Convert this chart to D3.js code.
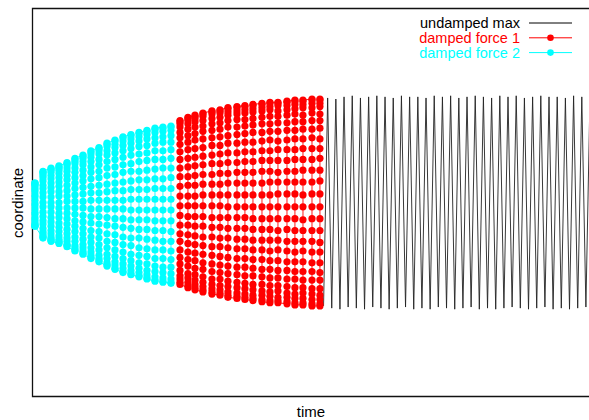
<!DOCTYPE html>
<html>
<head>
<meta charset="utf-8">
<script src="https://cdn.jsdelivr.net/npm/d3@7"></script>
<style>
body { margin: 0; background: #fff; }
text { font-family: "Liberation Sans", Arial, sans-serif; }
</style>
</head>
<body>
<div id="chart"></div>
<script>
// damped force 2 (cyan), one array of read-off values per column
const cyanT = [0.30, 1.28, 2.26, 3.23, 4.21, 5.18, 6.16, 7.13, 8.11, 9.09, 10.06, 11.04, 12.01, 12.99, 13.96, 14.94, 15.91, 16.89];
const cyanY = [
    [.18, .18, .17, .16, .14, .12, .10, .07, .05, .02, -.01, -.03, -.06, -.09, -.11, -.14, -.16, -.18, -.20, -.21, -.22, -.22],
    [.29, .28, .27, .25, .23, .20, .16, .13, .09, .05, 0, -.04, -.09, -.13, -.17, -.20, -.24, -.27, -.29, -.31, -.32, -.33],
    [.32, .31, .30, .28, .25, .22, .18, .14, .10, .05, 0, -.04, -.09, -.14, -.18, -.22, -.26, -.29, -.32, -.34, -.35, -.36],
    [.34, .33, .32, .30, .27, .23, .19, .15, .10, .06, 0, -.05, -.10, -.14, -.19, -.23, -.27, -.31, -.34, -.36, -.37, -.38],
    [.37, .36, .35, .32, .29, .25, .21, .16, .11, .06, .01, -.05, -.10, -.15, -.20, -.25, -.29, -.33, -.36, -.39, -.40, -.41],
    [.41, .40, .38, .36, .32, .28, .23, .18, .13, .07, .01, -.05, -.11, -.17, -.22, -.27, -.32, -.36, -.40, -.42, -.44, -.45],
    [.44, .43, .41, .38, .35, .30, .25, .20, .14, .08, .01, -.05, -.12, -.18, -.24, -.29, -.34, -.39, -.42, -.45, -.47, -.48],
    [.48, .47, .45, .42, .38, .33, .28, .22, .15, .09, .02, -.06, -.13, -.19, -.26, -.32, -.37, -.42, -.46, -.49, -.51, -.52],
    [.51, .50, .48, .45, .40, .35, .29, .23, .16, .09, .02, -.06, -.13, -.20, -.27, -.33, -.39, -.44, -.49, -.52, -.54, -.55],
    [.55, .54, .52, .48, .44, .38, .32, .25, .17, .10, .02, -.06, -.14, -.21, -.29, -.36, -.42, -.48, -.52, -.56, -.58, -.59],
    [.58, .57, .54, .51, .46, .40, .33, .26, .18, .11, .02, -.06, -.15, -.22, -.30, -.37, -.44, -.50, -.55, -.58, -.61, -.62],
    [.61, .60, .57, .53, .48, .42, .35, .28, .19, .11, .02, -.06, -.15, -.23, -.32, -.39, -.46, -.52, -.57, -.61, -.64, -.65],
    [.63, .62, .59, .55, .50, .44, .36, .29, .20, .12, .03, -.07, -.16, -.24, -.33, -.40, -.48, -.54, -.59, -.63, -.66, -.67],
    [.65, .64, .61, .57, .52, .45, .38, .29, .21, .12, .03, -.07, -.16, -.25, -.33, -.42, -.49, -.56, -.61, -.65, -.68, -.69],
    [.67, .66, .63, .59, .53, .46, .39, .30, .21, .12, .03, -.07, -.16, -.25, -.34, -.43, -.50, -.57, -.63, -.67, -.70, -.71],
    [.69, .68, .65, .60, .55, .48, .40, .31, .22, .13, .03, -.07, -.17, -.26, -.35, -.44, -.52, -.59, -.64, -.69, -.72, -.73],
    [.70, .69, .66, .61, .56, .48, .40, .32, .22, .13, .03, -.07, -.17, -.26, -.36, -.44, -.52, -.60, -.65, -.70, -.73, -.74],
    [.71, .70, .67, .62, .56, .49, .41, .32, .23, .13, .03, -.07, -.17, -.27, -.36, -.45, -.53, -.60, -.66, -.71, -.74, -.75]
];

// damped force 1 (red)
const redT = [17.99, 18.96, 19.82, 20.79, 21.89, 22.87, 23.84, 24.94, 25.91, 26.89, 27.99, 28.96, 29.94, 31.04, 32.01, 32.99, 34.09, 35.06];
const redY = [
    [.76, .75, .73, .70, .65, .60, .54, .47, .40, .32, .24, .15, .06, -.03, -.12, -.21, -.29, -.36, -.44, -.51, -.57, -.63, -.68, -.71, -.74, -.76],
    [.79, .78, .76, .73, .68, .62, .56, .49, .41, .33, .24, .16, .06, -.03, -.13, -.21, -.30, -.38, -.46, -.53, -.59, -.66, -.70, -.74, -.77, -.79],
    [.81, .80, .78, .75, .70, .64, .58, .50, .42, .34, .25, .16, .06, -.03, -.13, -.22, -.31, -.39, -.47, -.54, -.61, -.67, -.72, -.76, -.79, -.81],
    [.83, .82, .80, .76, .71, .66, .59, .51, .43, .35, .26, .17, .07, -.03, -.13, -.22, -.32, -.40, -.48, -.56, -.62, -.69, -.74, -.78, -.81, -.83],
    [.85, .84, .82, .78, .73, .67, .60, .53, .44, .36, .26, .17, .07, -.03, -.14, -.23, -.32, -.41, -.49, -.57, -.64, -.71, -.76, -.80, -.83, -.85],
    [.86, .85, .83, .79, .74, .68, .61, .53, .45, .36, .27, .17, .07, -.03, -.14, -.23, -.33, -.41, -.50, -.58, -.65, -.71, -.77, -.81, -.84, -.86],
    [.88, .87, .84, .81, .76, .70, .62, .55, .46, .37, .27, .18, .07, -.04, -.14, -.24, -.33, -.42, -.51, -.59, -.66, -.73, -.78, -.83, -.86, -.88],
    [.89, .88, .85, .82, .77, .70, .63, .55, .46, .37, .28, .18, .07, -.04, -.14, -.24, -.34, -.43, -.52, -.60, -.67, -.74, -.79, -.84, -.87, -.89],
    [.90, .89, .86, .83, .77, .71, .64, .56, .47, .38, .28, .18, .07, -.04, -.14, -.24, -.34, -.43, -.52, -.60, -.68, -.75, -.80, -.85, -.88, -.90],
    [.91, .90, .87, .84, .78, .72, .65, .56, .47, .38, .28, .18, .07, -.04, -.15, -.25, -.35, -.44, -.53, -.61, -.68, -.76, -.81, -.86, -.89, -.91],
    [.92, .91, .88, .85, .79, .73, .65, .57, .48, .39, .29, .18, .07, -.04, -.15, -.25, -.35, -.44, -.53, -.62, -.69, -.76, -.82, -.86, -.90, -.92],
    [.93, .92, .89, .86, .80, .73, .66, .58, .48, .39, .29, .19, .07, -.04, -.15, -.25, -.35, -.45, -.54, -.62, -.70, -.77, -.83, -.87, -.91, -.93],
    [.93, .92, .90, .85, .80, .74, .66, .57, .49, .39, .28, .19, .08, -.04, -.15, -.26, -.35, -.44, -.54, -.63, -.70, -.77, -.82, -.88, -.91, -.93],
    [.94, .93, .90, .86, .81, .74, .67, .58, .49, .39, .29, .19, .08, -.04, -.15, -.25, -.36, -.45, -.55, -.63, -.71, -.78, -.84, -.88, -.92, -.94],
    [.95, .94, .91, .87, .82, .75, .67, .59, .49, .40, .29, .19, .08, -.04, -.15, -.26, -.36, -.46, -.55, -.64, -.71, -.79, -.85, -.89, -.93, -.95],
    [.95, .94, .91, .88, .81, .75, .68, .59, .50, .40, .30, .19, .07, -.04, -.16, -.26, -.36, -.45, -.55, -.64, -.72, -.79, -.84, -.89, -.93, -.95],
    [.96, .95, .92, .88, .83, .76, .68, .60, .50, .40, .30, .19, .08, -.04, -.15, -.26, -.36, -.46, -.56, -.64, -.72, -.80, -.85, -.90, -.94, -.96],
    [.96, .95, .92, .89, .82, .76, .69, .59, .50, .41, .30, .20, .08, -.04, -.15, -.26, -.37, -.46, -.56, -.65, -.72, -.80, -.86, -.90, -.94, -.96]
];

// undamped max (black line)
const undampedT = [35.5, 36, 36.5, 37, 37.5, 38, 38.5, 39, 39.5, 40,
    40.5, 41, 41.5, 42, 42.5, 43, 43.5, 44, 44.5, 45,
    45.5, 46, 46.5, 47, 47.5, 48, 48.5, 49, 49.5, 50,
    50.5, 51, 51.5, 52, 52.5, 53, 53.5, 54, 54.5, 55,
    55.5, 56, 56.5, 57, 57.5, 58, 58.5, 59, 59.5, 60,
    60.5, 61, 61.5, 62, 62.5, 63, 63.5, 64, 64.5, 65,
    65.5, 66, 66.5, 67, 67.5, 68];
const undampedY = [-0.96, 0.97, -0.98, 0.96, -0.99, 0.98, -0.97, 0.99, -0.98, 0.97,
    -0.99, 0.98, -0.97, 0.99, -0.98, 0.98, -0.99, 0.97, -0.98, 0.99,
    -0.97, 0.98, -0.99, 0.98, -0.98, 0.97, -0.99, 0.99, -0.97, 0.98,
    -0.98, 0.99, -0.99, 0.97, -0.98, 0.98, -0.97, 0.99, -0.99, 0.98,
    -0.98, 0.97, -0.99, 0.99, -0.98, 0.98, -0.97, 0.99, -0.98, 0.97,
    -0.99, 0.98, -0.98, 0.99, -0.97, 0.98, -0.99, 0.98, -0.98, 0.97,
    -0.99, 0.99, -0.98, 0.98, -0.97, 0.99];

const seriesNames = ["undamped max", "damped force 1", "damped force 2"];
const seriesColors = ["#000000", "#ff0000", "#00ffff"];

const width = 589, height = 420;
const plotLeft = 32.5, plotRight = 590, plotTop = 8.5, plotBottom = 396.5;

const x = d3.scaleLinear().domain([0, 68]).range([plotLeft, plotRight]);
const y = d3.scaleLinear().domain([-1.8, 1.8]).range([plotBottom, plotTop]);

const svg = d3.select("#chart")
    .append("svg")
        .attr("width", width)
        .attr("height", height)
        .style("display", "block");

svg.append("defs").append("clipPath")
    .attr("id", "plot")
    .append("rect")
        .attr("x", plotLeft - 6).attr("y", plotTop)
        .attr("width", plotRight - plotLeft + 12).attr("height", plotBottom - plotTop);

// border (right side runs off the window)
svg.append("path")
    .attr("d", `M${plotRight + 10},${plotTop}H${plotLeft}V${plotBottom}H${plotRight + 10}`)
    .attr("fill", "none")
    .attr("stroke", "#111")
    .attr("stroke-width", 1.3);

// column readings -> one point list, zig-zag through the columns
function columnPoints (ts, ys) {
    const pts = [];
    ts.forEach((t, i) => {
        const col = i % 2 ? ys[i].slice().reverse() : ys[i];
        col.forEach((v) => pts.push([t, v]));
    });
    return pts;
}

const line = d3.line().x((d) => x(d[0])).y((d) => y(d[1]));
const plot = svg.append("g").attr("clip-path", "url(#plot)");

const undamped = undampedT.map((t, i) => [t, undampedY[i]]);
plot.append("path")
    .datum(undamped)
    .attr("d", line)
    .attr("fill", "none")
    .attr("stroke", "#222")
    .attr("stroke-width", 0.9);

function drawDots (pts, color) {
    plot.append("path")
        .datum(pts)
        .attr("d", line)
        .attr("fill", "none")
        .attr("stroke", color)
        .attr("stroke-width", 0.9);
    plot.append("g").selectAll("circle")
        .data(pts).enter()
            .append("circle")
                .attr("cx", (d) => x(d[0]))
                .attr("cy", (d) => y(d[1]))
                .attr("r", 3.6)
                .attr("fill", color);
}

drawDots(columnPoints(cyanT, cyanY), seriesColors[2]);
drawDots(columnPoints(redT, redY), seriesColors[1]);

// axis labels
svg.append("text")
    .attr("x", 311).attr("y", 417)
    .attr("text-anchor", "middle")
    .style("font-size", "15px")
    .text("time");

svg.append("text")
    .attr("transform", "translate(23,203) rotate(-90)")
    .attr("text-anchor", "middle")
    .style("font-size", "15px")
    .text("coordinate");

// legend
const legend = svg.append("g");
seriesNames.forEach((name, i) => {
    const ly = 23 + i * 14.8;
    legend.append("text")
        .attr("x", 520).attr("y", ly + 5)
        .attr("text-anchor", "end")
        .attr("fill", seriesColors[i])
        .style("font-size", "14.5px")
        .text(name);
    legend.append("line")
        .attr("x1", 529).attr("x2", 572)
        .attr("y1", ly).attr("y2", ly)
        .attr("stroke", seriesColors[i])
        .attr("stroke-width", 1);
    if (i > 0) {
        legend.append("circle")
            .attr("cx", 550.5).attr("cy", ly)
            .attr("r", 3.3)
            .attr("fill", seriesColors[i]);
    }
});
</script>
</body>
</html>
